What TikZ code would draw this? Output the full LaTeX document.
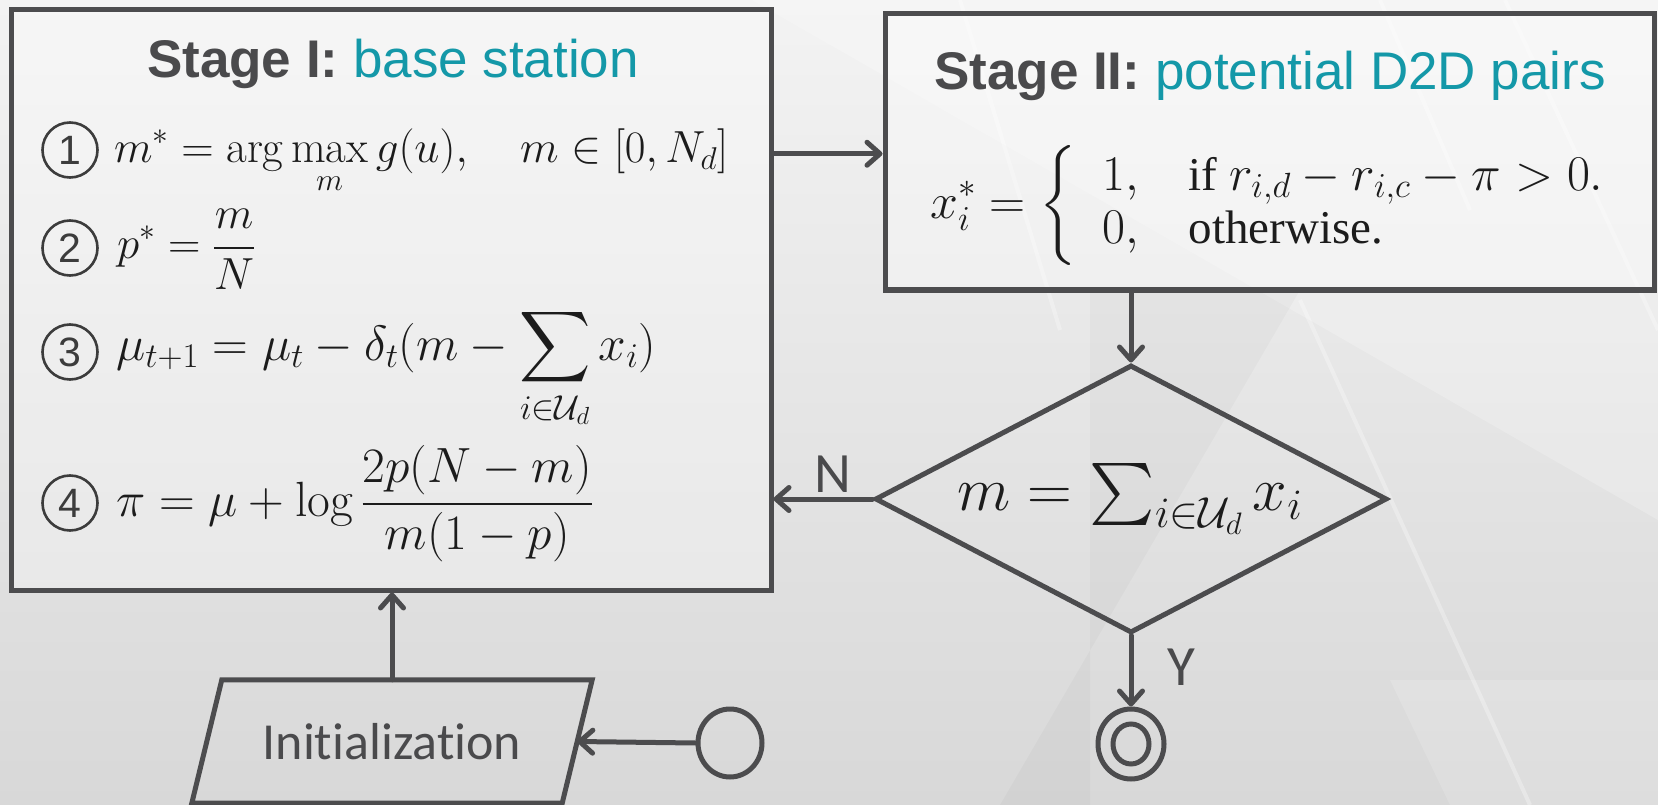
\RequirePackage{fix-cm}
\documentclass[tikz,border=0pt]{standalone}
\usepackage{amsmath}
\DeclareFontFamily{OMX}{cmex}{}
\DeclareFontShape{OMX}{cmex}{m}{n}{<->cmex10}{}
\usepackage{fontspec}
\newfontfamily\arialf{Liberation Sans}
\newfontfamily\calf[Ligatures=NoCommon]{Carlito}
\newfontfamily\timesf{Liberation Serif}
\usetikzlibrary{arrows.meta,shapes.geometric,calc}
\definecolor{linec}{RGB}{76,76,78}
\definecolor{titlec}{RGB}{74,74,76}
\definecolor{tealc}{RGB}{20,152,168}
\definecolor{mathc}{RGB}{28,28,28}
\definecolor{numc}{RGB}{60,60,60}
\definecolor{bgtop}{RGB}{243,243,243}
\definecolor{bgbot}{RGB}{216,216,216}
\begin{document}
\begin{tikzpicture}[x=1pt,y=-1pt,
  lc/.style={draw=linec, line width=5pt},
  boxs/.style={lc, fill=white, fill opacity=0.3, text opacity=1, inner sep=0pt},
  arr/.style={draw=linec, line width=5pt, line cap=round,
    -{Straight Barb[length=13pt,width=23pt,line cap=round,line join=round]}},
  numcirc/.style={circle, draw=numc, line width=2.6pt, minimum size=55pt, inner sep=0pt,
    font=\arialf\fontsize{41}{41}\selectfont, text=numc},
  mathl/.style={anchor=base west, inner sep=0pt, font=\fontsize{45}{53}\selectfont, text=mathc},
  mathlb/.style={mathl, font=\fontsize{49.5}{56}\selectfont},
  ttl/.style={anchor=base, inner sep=0pt, font=\arialf\fontsize{53}{60}\selectfont},
  lbl/.style={anchor=base, inner sep=0pt, font=\calf\fontsize{57}{60}\selectfont, text=titlec},
  bgline/.style={white, opacity=0.3, line width=4pt}
]
% background
\shade[top color=bgtop, bottom color=bgbot] (0,0) rectangle (1658,805);
\useasboundingbox (0,0) rectangle (1658,805);
\fill[white, opacity=0.22] (752,0) -- (1658,0) -- (1658,520) -- cycle;
\fill[white, opacity=0.15] (1390,680) -- (1658,680) -- (1658,805) -- (1450,805) -- cycle;
\fill[black, opacity=0.025] (1090,290) -- (1300,290) -- (1000,805) -- (1090,805) -- cycle;
\draw[bgline] (960,0) -- (1060,330);
\draw[bgline] (1380,0) -- (1470,210);
\draw[bgline] (1505,0) -- (1658,330);
\draw[bgline] (1300,300) -- (1530,805);

% Stage I
\node[boxs, minimum width=760pt, minimum height=580pt] (s1) at (391,300) {};
\node[ttl] (t1) at (393,78) {\textcolor{titlec}{\bfseries Stage I:} \textcolor{tealc}{base station}};
\node[numcirc] (n1) at (70,150) {1};
\node[mathl] (e1) at (114,163) {$\displaystyle m^* = \arg\max_m g(u),\quad m\in[0,N_d]$};
\node[numcirc] (n2) at (70,248) {2};
\node[mathl] (e2) at (117,259) {$\displaystyle p^* = \frac{m}{N}$};
\node[numcirc] (n3) at (70,352) {3};
\node[mathlb] (e3) at (116,360) {$\displaystyle \mu_{t+1} = \mu_t - \delta_t(m - \sum_{i\in\mathcal{U}_d} x_i)$};
\node[numcirc] (n4) at (70,503) {4};
\node[mathlb] (e4) at (116,516) {$\displaystyle \pi = \mu + \log\frac{2p(N-m)}{m(1-p)}$};

% Stage II
\node[boxs, minimum width=769pt, minimum height=276pt] (s2) at (1269.5,152) {};
\node[ttl] (t2) at (1270,90) {\textcolor{titlec}{\bfseries Stage II:} \textcolor{tealc}{potential D2D pairs}};
\node[anchor=west, inner sep=0pt, font=\fontsize{50}{53}\selectfont, text=mathc] (e5) at (930,206)
  {$\displaystyle x_i^* = \left\{\begin{array}{@{\hspace{0.5em}}l@{\quad}l@{}} 1, & \text{\timesf\fontsize{47}{53}\selectfont if } r_{i,d}-r_{i,c}-\pi>0.\\ 0, & \text{\timesf\fontsize{47}{53}\selectfont otherwise.}\end{array}\right.$};

% decision
\node[diamond, lc, minimum width=512pt, minimum height=268pt, inner sep=0pt, aspect=1.91] (dec) at (1131,499) {};
\node[anchor=base, inner sep=0pt, font=\fontsize{62}{66}\selectfont, text=mathc] (e6) at (1130,510) {$m = \sum_{i\in\mathcal{U}_d} x_i$};

% terminals
\node[ellipse, lc, minimum width=64pt, minimum height=68pt, inner sep=0pt] (start) at (730,743) {};
\node[ellipse, lc, minimum width=66pt, minimum height=70pt, inner sep=0pt] (end) at (1131,744) {};
\node[ellipse, lc, minimum width=36pt, minimum height=40pt, inner sep=0pt] (endin) at (end.center) {};

% initialization (parallelogram drawn round a text node)
\node[minimum width=370pt, minimum height=123pt, inner sep=0pt,
  font=\calf\fontsize{52}{56}\selectfont, text=titlec] (init) at (392,741.5) {Initialization};
\draw[lc] ([xshift=15pt]init.north west) -- ([xshift=15pt]init.north east)
  -- ([xshift=-15pt]init.south east) -- ([xshift=-15pt]init.south west) -- cycle;

% connectors
\coordinate (a1) at ($(s1.north east)!0.25!(s1.south east)$);
\draw[arr] (a1) -- (a1 -| s2.west);
\draw[arr] (s2.south -| dec.north) -- (dec.north);
\draw[arr] (dec.west) -- (dec.west -| s1.east);
\node[lbl] (lN) at (833,492) {N};
\draw[arr] (dec.south) -- (end.north);
\node[lbl] (lY) at (1181,685) {Y};
\draw[arr] (start.west) -- (init.east);
\draw[arr] (init.north) -- (init.north |- s1.south);
\end{tikzpicture}
\end{document}
